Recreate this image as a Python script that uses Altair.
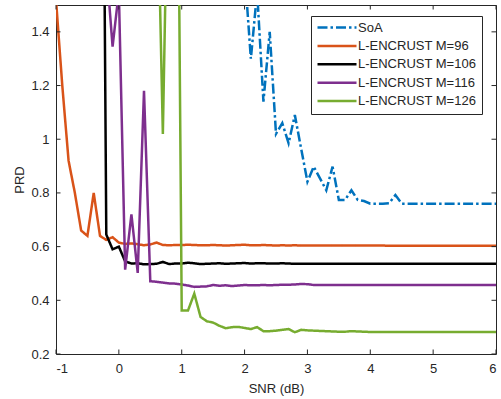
import altair as alt
import pandas as pd

# ---- data -------------------------------------------------------------
snr = [-1.0, -0.9, -0.8, -0.7, -0.6, -0.5, -0.4, -0.3, -0.2, -0.1,
       0.0, 0.1, 0.2, 0.3, 0.4, 0.5, 0.6, 0.7, 0.8, 0.9,
       1.0, 1.1, 1.2, 1.3, 1.4, 1.5, 1.6, 1.7, 1.8, 1.9,
       2.0, 2.1, 2.2, 2.3, 2.4, 2.5, 2.6, 2.7, 2.8, 2.9,
       3.0, 3.1, 3.2, 3.3, 3.4, 3.5, 3.6, 3.7, 3.8, 3.9,
       4.0, 4.1, 4.2, 4.3, 4.4, 4.5, 4.6, 4.7, 4.8, 4.9,
       5.0, 5.1, 5.2, 5.3, 5.4, 5.5, 5.6, 5.7, 5.8, 5.9,
       6.0]

soa = [None] * 30 + [
    1.63, 1.30, 1.55, 1.14, 1.40, 1.02, 1.06, 0.985, 1.09, 0.965,
    0.842, 0.898, 0.854, 0.81, 0.898, 0.774, 0.774, 0.81, 0.774, 0.77,
    0.76, 0.76, 0.76, 0.762, 0.792, 0.76, 0.76, 0.76, 0.76, 0.76,
    0.76, 0.76, 0.76, 0.76, 0.76, 0.76, 0.76, 0.76, 0.76, 0.76,
    0.76]

m96 = [1.52, 1.20, 0.92, 0.80, 0.66, 0.64, 0.80, 0.64, 0.625, 0.635,
       0.615, 0.61, 0.612, 0.609, 0.605, 0.608, 0.615, 0.606, 0.605, 0.606,
       0.606, 0.607, 0.606, 0.605, 0.605, 0.606, 0.605, 0.604, 0.605, 0.606,
       0.607, 0.605, 0.605, 0.606, 0.605, 0.604, 0.605, 0.604, 0.605, 0.604,
       0.604, 0.604, 0.604, 0.604, 0.604, 0.604, 0.604, 0.604, 0.604, 0.604,
       0.604, 0.604, 0.604, 0.603, 0.603, 0.603, 0.603, 0.603, 0.603, 0.603,
       0.603, 0.603, 0.603, 0.603, 0.603, 0.603, 0.603, 0.603, 0.603, 0.603,
       0.603]

m106 = [None] * 7 + [
    4.0, 0.645, 0.59,
    0.60, 0.545, 0.537, 0.538, 0.534, 0.535, 0.536, 0.543, 0.535, 0.537,
    0.537, 0.540, 0.538, 0.535, 0.536, 0.537, 0.538, 0.536, 0.537, 0.538,
    0.539, 0.537, 0.538, 0.538, 0.537, 0.537, 0.538, 0.537, 0.536, 0.536,
    0.536, 0.536, 0.536, 0.536, 0.536, 0.536, 0.536, 0.536, 0.536, 0.536,
    0.536, 0.536, 0.536, 0.536, 0.536, 0.536, 0.536, 0.536, 0.536, 0.536,
    0.536, 0.536, 0.536, 0.536, 0.536, 0.536, 0.536, 0.536, 0.536, 0.536,
    0.536]

m116 = [None] * 8 + [
    1.65, 1.345,
    1.55, 0.514, 0.72, 0.502, 1.18, 0.471, 0.469, 0.466, 0.463, 0.462,
    0.459, 0.455, 0.450, 0.451, 0.452, 0.457, 0.454, 0.456, 0.453, 0.455,
    0.457, 0.456, 0.456, 0.457, 0.456, 0.457, 0.458, 0.458, 0.459, 0.461,
    0.460, 0.457, 0.457, 0.457, 0.457, 0.457, 0.457, 0.457, 0.457, 0.457,
    0.457, 0.457, 0.457, 0.457, 0.457, 0.457, 0.457, 0.457, 0.457, 0.457,
    0.457, 0.457, 0.457, 0.457, 0.457, 0.457, 0.457, 0.457, 0.457, 0.457,
    0.457]

m126 = [None] * 16 + [
    2.1, 1.02, 2.3, 3.3,
    0.362, 0.362, 0.425, 0.338, 0.322, 0.317, 0.305, 0.296, 0.300, 0.301,
    0.297, 0.293, 0.300, 0.285, 0.285, 0.287, 0.290, 0.293, 0.281, 0.290,
    0.288, 0.287, 0.286, 0.285, 0.284, 0.283, 0.283, 0.285, 0.284, 0.283,
    0.282, 0.282, 0.282, 0.282, 0.282, 0.282, 0.282, 0.282, 0.282, 0.282,
    0.282, 0.282, 0.282, 0.282, 0.282, 0.282, 0.282, 0.282, 0.282, 0.282,
    0.282]

series_names = ["SoA", "L-ENCRUST M=96", "L-ENCRUST M=106",
                "L-ENCRUST M=116", "L-ENCRUST M=126"]
series_values = [soa, m96, m106, m116, m126]
series_colors = ["#0072BD", "#D95319", "#000000", "#7E2F8E", "#77AC30"]
series_dashes = [[10, 3, 2.5, 3], [1, 0], [1, 0], [1, 0], [1, 0]]

x_ticks = [-1, 0, 1, 2, 3, 4, 5, 6]
y_ticks = [0.2, 0.4, 0.6, 0.8, 1.0, 1.2, 1.4]
x_domain = [-1, 6]
y_domain = [0.2, 1.5]

# ---- layout / style ---------------------------------------------------
W, H = 440, 349
FONT = "Liberation Sans"
INK = "#262626"
TICK_PX = 4.5

rows = []
for order, (name, vals) in enumerate(zip(series_names, series_values)):
    for x, v in zip(snr, vals):
        if v is not None:
            rows.append({"snr": x, "prd": v, "series": name, "order": order})
df = pd.DataFrame(rows)

# inward tick marks on all four sides of the box
dx = TICK_PX * (x_domain[1] - x_domain[0]) / W
dy = TICK_PX * (y_domain[1] - y_domain[0]) / H
tick_rows = []
for t in x_ticks:
    tick_rows.append({"x": t, "x2": t, "y": y_domain[0], "y2": y_domain[0] + dy})
    tick_rows.append({"x": t, "x2": t, "y": y_domain[1], "y2": y_domain[1] - dy})
for t in y_ticks:
    tick_rows.append({"x": x_domain[0], "x2": x_domain[0] + dx, "y": t, "y2": t})
    tick_rows.append({"x": x_domain[1], "x2": x_domain[1] - dx, "y": t, "y2": t})
ticks_df = pd.DataFrame(tick_rows)

x_scale = alt.Scale(domain=x_domain, nice=False, zero=False)
y_scale = alt.Scale(domain=y_domain, nice=False, zero=False)

legend = alt.Legend(
    title=None, orient="none", legendX=255, legendY=11,
    symbolType="stroke", symbolSize=1521, symbolStrokeWidth=2.5,
    clipHeight=13, labelOffset=0, labelFontSize=13, labelFont=FONT,
    labelColor=INK, rowPadding=4.4, padding=5, strokeColor=INK,
    fillColor="white", cornerRadius=0, labelLimit=300,
)

lines = alt.Chart(df).mark_line(clip=True, strokeWidth=2.5).encode(
    x=alt.X("snr:Q", scale=x_scale, axis=alt.Axis(
        values=x_ticks, title="SNR (dB)", labelExpr="'' + datum.value",
        ticks=False, domain=False, grid=False, labelPadding=8,
        titlePadding=7)),
    y=alt.Y("prd:Q", scale=y_scale, axis=alt.Axis(
        values=y_ticks, title="PRD", format="~g", ticks=False,
        domain=False, grid=False, labelPadding=7, titlePadding=4)),
    color=alt.Color("series:N", scale=alt.Scale(domain=series_names,
                                                range=series_colors),
                    legend=legend),
    strokeDash=alt.StrokeDash("series:N", scale=alt.Scale(domain=series_names,
                                                          range=series_dashes),
                              legend=legend),
    order=alt.Order("snr:Q"),
    detail="order:O",
)

tick_marks = alt.Chart(ticks_df).mark_rule(color=INK, strokeWidth=1).encode(
    x=alt.X("x:Q", scale=x_scale), x2="x2:Q",
    y=alt.Y("y:Q", scale=y_scale), y2="y2:Q",
)

chart = alt.layer(lines, tick_marks).properties(
    width=W, height=H,
    padding={"left": 56, "top": 5, "right": 5, "bottom": 45},
    autosize=alt.AutoSizeParams(type="none"),
    background="white",
).configure_view(
    stroke=INK, strokeWidth=1,
).configure_axis(
    labelFont=FONT, labelFontSize=13, labelColor=INK,
    titleFont=FONT, titleFontSize=13, titleColor=INK, titleFontWeight="normal",
)

chart.save("out.html", embed_options={"renderer": "svg", "actions": False})
